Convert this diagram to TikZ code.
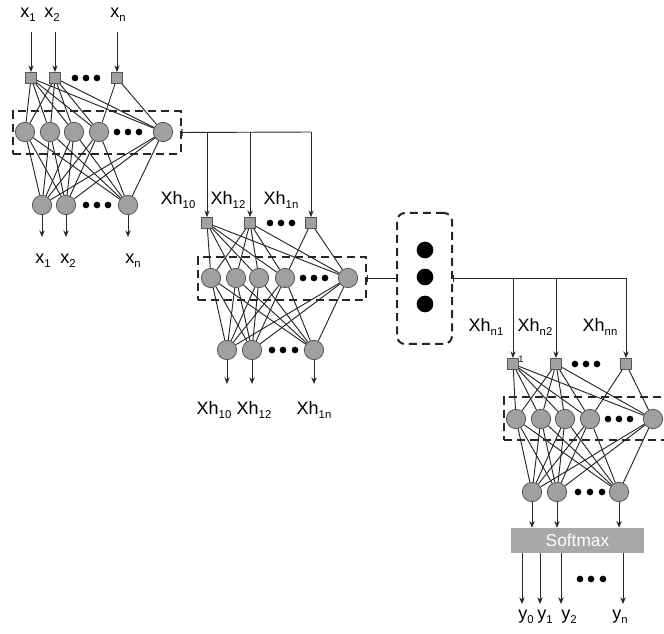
\documentclass[tikz,border=0pt]{standalone}
\usepackage{fontspec}
\setmainfont{Liberation Sans}
\usetikzlibrary{arrows.meta}
\definecolor{ngray}{RGB}{160,160,160}
\definecolor{nedge}{RGB}{85,85,85}
\definecolor{sgray}{RGB}{168,168,168}
\newcommand{\lsub}[1]{\raisebox{-3pt}{\fontsize{8.5}{9}\selectfont #1}}
\tikzset{
  sq/.style={rectangle,draw=nedge,fill=ngray,line width=0.6pt,minimum size=8.3pt,inner sep=0pt},
  neu/.style={circle,draw=nedge,fill=ngray,line width=0.6pt,minimum size=14.5pt,inner sep=0pt},
  sdot/.style={circle,fill=black,minimum size=5pt,inner sep=0pt},
  bdot/.style={circle,fill=black,minimum size=12.5pt,inner sep=0pt},
  dbox/.style={draw=black!85,line width=1.5pt,dash pattern=on 6pt off 3.8pt,inner sep=0pt},
  conn/.style={draw=black!85,line width=0.7pt},
  arr/.style={conn,-{Stealth[length=5pt,width=4pt]}},
  barl/.style={conn,{Bar[width=5pt,line width=0.8pt]}-},
  lbl/.style={font=\fontsize{13.5}{15}\selectfont,inner sep=0pt},
  smax/.style={rectangle,fill=sgray,inner sep=0pt,text=white,font=\fontsize{13}{15}\selectfont}
}
\begin{document}
\begin{tikzpicture}[x=0.75pt,y=-0.75pt]
\useasboundingbox (0,0) rectangle (664,634);
% ---------------- Block 1 ----------------
\node[lbl] (ax1) at (28,15) {x\lsub{1}};
\node[lbl] (ax2) at (52,15) {x\lsub{2}};
\node[lbl] (axn) at (118,15) {x\lsub{n}};
\node[sq] (a1) at (31,78) {};
\node[sq] (a2) at (55,78) {};
\node[sq] (an) at (117,78) {};
\coordinate (ai1) at (31,32);
\coordinate (ai2) at (55,32);
\coordinate (ain) at (117,32);
\draw[arr] (ai1) -- (a1);
\draw[arr] (ai2) -- (a2);
\draw[arr] (ain) -- (an);
\node[sdot] (ad1) at (75,78) {};
\node[sdot] (ad2) at (86,78) {};
\node[sdot] (ad3) at (97,78) {};
\node[dbox,minimum width=168*0.75pt,minimum height=43*0.75pt] (B1) at (96.5,132.5) {};
\node[neu] (h11) at (25,132) {};
\node[neu] (h12) at (50,132) {};
\node[neu] (h13) at (74,132) {};
\node[neu] (h14) at (99,132) {};
\node[neu] (h15) at (163,132) {};
\node[sdot] (hd11) at (117,132) {};
\node[sdot] (hd12) at (128,132) {};
\node[sdot] (hd13) at (139,132) {};
\node[neu] (o11) at (42,205) {};
\node[neu] (o12) at (66,205) {};
\node[neu] (o1n) at (128,205) {};
\node[sdot] (od11) at (86,205) {};
\node[sdot] (od12) at (97,205) {};
\node[sdot] (od13) at (108,205) {};
\foreach \s in {a1,a2}{\foreach \h in {h11,h12,h13,h14,h15}{\draw[conn] (\s) -- (\h);}}
\draw[conn] (an) -- (h14);
\draw[conn] (an) -- (h15);
\foreach \h in {h11,h12,h13,h14,h15}{\foreach \o in {o11,o12,o1n}{\draw[conn] (\h) -- (\o);}}
\coordinate (ae1) at (42,237);
\coordinate (ae2) at (66,237);
\coordinate (aen) at (128,237);
\draw[arr] (o11) -- (ae1);
\draw[arr] (o12) -- (ae2);
\draw[arr] (o1n) -- (aen);
\node[lbl] (ox1) at (43,261) {x\lsub{1}};
\node[lbl] (ox2) at (68,261) {x\lsub{2}};
\node[lbl] (oxn) at (133,261) {x\lsub{n}};
% link 1 -> 2
\coordinate (j11) at (207,132);
\coordinate (j12) at (250,132);
\coordinate (j13) at (311,132);
\draw[barl] (B1.east) -- (j13);
% ---------------- Block 2 ----------------
\node[sq] (b1) at (207,223) {};
\node[sq] (b2) at (250,223) {};
\node[sq] (bn) at (311,223) {};
\draw[arr] (j11) -- (b1);
\draw[arr] (j12) -- (b2);
\draw[arr] (j13) -- (bn);
\node[lbl] (bx1) at (178,200) {Xh\lsub{10}};
\node[lbl] (bx2) at (228,200) {Xh\lsub{12}};
\node[lbl] (bxn) at (281,200) {Xh\lsub{1n}};
\node[sdot] (bd1) at (270,223) {};
\node[sdot] (bd2) at (281,223) {};
\node[sdot] (bd3) at (292,223) {};
\node[dbox,minimum width=168*0.75pt,minimum height=43*0.75pt] (B2) at (282,278.5) {};
\node[neu] (h21) at (211,278) {};
\node[neu] (h22) at (236,278) {};
\node[neu] (h23) at (259,278) {};
\node[neu] (h24) at (285,278) {};
\node[neu] (h25) at (348,278) {};
\node[sdot] (hd21) at (303,278) {};
\node[sdot] (hd22) at (314,278) {};
\node[sdot] (hd23) at (325,278) {};
\node[neu] (o21) at (227,350) {};
\node[neu] (o22) at (252,350) {};
\node[neu] (o2n) at (314,350) {};
\node[sdot] (od21) at (272,350) {};
\node[sdot] (od22) at (283,350) {};
\node[sdot] (od23) at (295,350) {};
\foreach \s in {b1,b2}{\foreach \h in {h21,h22,h23,h24,h25}{\draw[conn] (\s) -- (\h);}}
\draw[conn] (bn) -- (h24);
\draw[conn] (bn) -- (h25);
\foreach \h in {h21,h22,h23,h24,h25}{\foreach \o in {o21,o22,o2n}{\draw[conn] (\h) -- (\o);}}
\coordinate (be1) at (227,384);
\coordinate (be2) at (252,384);
\coordinate (ben) at (314,384);
\draw[arr] (o21) -- (be1);
\draw[arr] (o22) -- (be2);
\draw[arr] (o2n) -- (ben);
\node[lbl] (ob1) at (214,410) {Xh\lsub{10}};
\node[lbl] (ob2) at (254,410) {Xh\lsub{12}};
\node[lbl] (obn) at (314,410) {Xh\lsub{1n}};
% ---------------- Middle box ----------------
\node[dbox,rounded corners=6pt,minimum width=55*0.75pt,minimum height=131*0.75pt] (M) at (424.5,278.5) {};
\node[bdot] (m1) at (425,250) {};
\node[bdot] (m2) at (425,277) {};
\node[bdot] (m3) at (425,304) {};
\draw[barl] (B2.east) -- (M.west);
\coordinate (j31) at (513,278.5);
\coordinate (j32) at (556,278.5);
\coordinate (j33) at (626,278.5);
\draw[barl] (M.east) -- (j33);
% ---------------- Block 3 ----------------
\node[sq] (c1) at (513,364) {};
\node[sq] (c2) at (556,364) {};
\node[sq] (cn) at (626,364) {};
\draw[arr] (j31) -- (c1);
\draw[arr] (j32) -- (c2);
\draw[arr] (j33) -- (cn);
\node[inner sep=0pt,font=\fontsize{7}{8}\selectfont] (cone) at (521,359) {1};
\node[lbl] (cx1) at (486,327) {Xh\lsub{n1}};
\node[lbl] (cx2) at (535,327) {Xh\lsub{n2}};
\node[lbl] (cxn) at (600,327) {Xh\lsub{nn}};
\node[sdot] (cd1) at (575,364) {};
\node[sdot] (cd2) at (586,364) {};
\node[sdot] (cd3) at (597,364) {};
\node[dbox,minimum width=168*0.75pt,minimum height=43*0.75pt] (B3) at (588,418.5) {};
\node[neu] (h31) at (516,419) {};
\node[neu] (h32) at (541,419) {};
\node[neu] (h33) at (565,419) {};
\node[neu] (h34) at (590,419) {};
\node[neu] (h35) at (653,419) {};
\node[sdot] (hd31) at (608,419) {};
\node[sdot] (hd32) at (619,419) {};
\node[sdot] (hd33) at (630,419) {};
\node[neu] (o31) at (532,492) {};
\node[neu] (o32) at (557,492) {};
\node[neu] (o3n) at (619,492) {};
\node[sdot] (od31) at (578,492) {};
\node[sdot] (od32) at (590,492) {};
\node[sdot] (od33) at (602,492) {};
\foreach \s in {c1,c2}{\foreach \h in {h31,h32,h33,h34,h35}{\draw[conn] (\s) -- (\h);}}
\draw[conn] (cn) -- (h34);
\draw[conn] (cn) -- (h35);
\foreach \h in {h31,h32,h33,h34,h35}{\foreach \o in {o31,o32,o3n}{\draw[conn] (\h) -- (\o);}}
\node[smax,minimum width=133*0.75pt,minimum height=25*0.75pt] (S) at (577.5,540.5) {Softmax};
\draw[arr] (o31) -- (o31 |- S.north);
\draw[arr] (o32) -- (o32 |- S.north);
\draw[arr] (o3n) -- (o3n |- S.north);
\coordinate (ye0) at (522,604);
\coordinate (ye1) at (540,604);
\coordinate (ye2) at (561,604);
\coordinate (yen) at (623,604);
\draw[arr] (ye0 |- S.south) -- (ye0);
\draw[arr] (ye1 |- S.south) -- (ye1);
\draw[arr] (ye2 |- S.south) -- (ye2);
\draw[arr] (yen |- S.south) -- (yen);
\node[sdot] (yd1) at (580,579) {};
\node[sdot] (yd2) at (591,579) {};
\node[sdot] (yd3) at (603,579) {};
\node[lbl] (y0) at (526,617) {y\lsub{0}};
\node[lbl] (y1) at (545,617) {y\lsub{1}};
\node[lbl] (y2) at (569,617) {y\lsub{2}};
\node[lbl] (yn) at (620,617) {y\lsub{n}};
\end{tikzpicture}
\end{document}
